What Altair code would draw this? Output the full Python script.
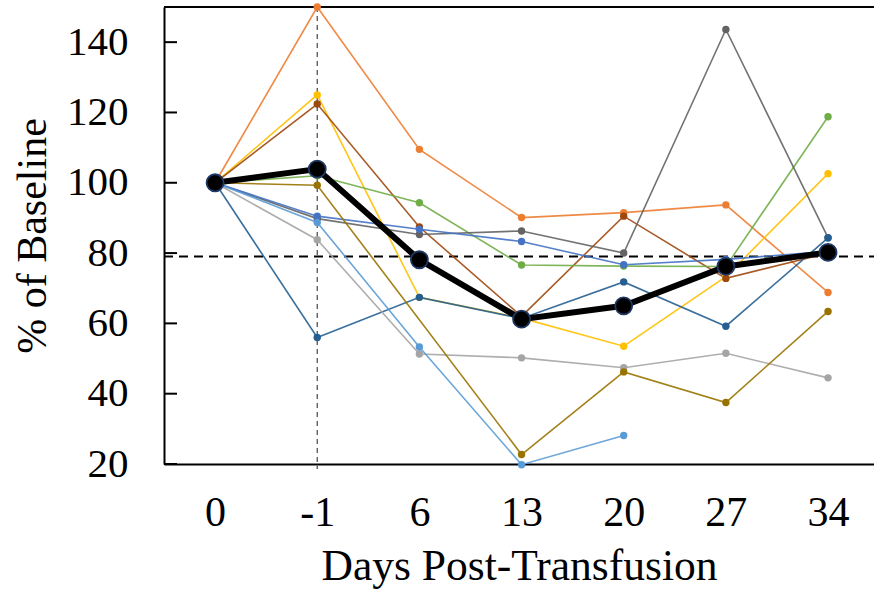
import json
import altair as alt
import pandas as pd

days = ["0", "-1", "6", "13", "20", "27", "34"]

series_names = ["orange", "yellow", "brown", "green", "dark_gray",
                "royal_blue", "steel_blue", "light_gray", "dark_gold", "light_blue"]
series_colors = ["#ED7D31", "#FFC000", "#9E480E", "#70AD47", "#636363",
                 "#4472C4", "#255E91", "#A5A5A5", "#997300", "#5B9BD5"]

orange = [100, 150, 109.5, 90.1, 91.5, 93.7, 68.8]
yellow = [100, 125.0, 67.4, 61.5, 53.5, 73.3, 102.6]
brown = [100, 122.4, 87.4, 62.0, 90.5, 72.8, 80.0]
green = [100, 102.0, 94.3, 76.6, 76.3, 76.2, 118.8]
dark_gray = [100, 89.8, 85.3, 86.3, 80.0, 143.6, 84.4]
royal_blue = [100, 90.5, 86.8, 83.3, 76.7, 78.2, 80.5]
steel_blue = [100, 56.0, 67.4, 61.4, 71.8, 59.2, 84.3]
light_gray = [100, 83.8, 51.3, 50.2, 47.4, 51.5, 44.5]
dark_gold = [100, 99.3, None, 22.7, 46.2, 37.5, 63.4]
light_blue = [100, 88.7, 53.3, 19.8, 28.1, None, None]
mean_values = [100, 103.9, 78.1, 61.2, 65.0, 76.2, 80.2]

threshold = 79
marker_day_index = 1
y_ticks = [20, 40, 60, 80, 100, 120, 140]

all_series = [orange, yellow, brown, green, dark_gray,
              royal_blue, steel_blue, light_gray, dark_gold, light_blue]

rows = []
for name, vals in zip(series_names, all_series):
    for i, v in enumerate(vals):
        if v is not None:
            rows.append({"series": name, "idx": i, "day": days[i], "value": v})
df = pd.DataFrame(rows)
mean_df = pd.DataFrame({"idx": list(range(len(days))), "day": days, "value": mean_values})

W, H = 710, 457
FONT = "Liberation Serif"

xscale = alt.Scale(domain=[-0.5, 6.45], nice=False, zero=False)
yscale = alt.Scale(domain=[20, 150], nice=False, zero=False)

label_expr = json.dumps(days) + "[datum.value]"

x_enc = alt.X("idx:Q", scale=xscale,
              axis=alt.Axis(values=list(range(len(days))), labelExpr=label_expr,
                            title="Days Post-Transfusion", ticks=False, grid=False,
                            domainColor="black", domainWidth=2,
                            labelFontSize=42, titleFontSize=43.5,
                            labelPadding=28, titlePadding=12, labelFlush=False))
y_enc = alt.Y("value:Q", scale=yscale,
              axis=alt.Axis(values=y_ticks, title="% of Baseline", ticks=False, grid=False,
                            domainColor="black", domainWidth=2,
                            labelFontSize=41, titleFontSize=42,
                            labelPadding=36, titlePadding=12))

color_enc = alt.Color("series:N", scale=alt.Scale(domain=series_names, range=series_colors),
                      legend=None)

lines = alt.Chart(df).mark_line(strokeWidth=1.6, opacity=0.9).encode(
    x=x_enc, y=y_enc, color=color_enc, detail="series:N", order="idx:Q")
points = alt.Chart(df).mark_circle(size=55, opacity=1).encode(
    x=x_enc, y=y_enc, color=color_enc)

mean_line = alt.Chart(mean_df).mark_line(strokeWidth=6, color="black").encode(
    x=x_enc, y=y_enc, order="idx:Q")
mean_pts = alt.Chart(mean_df).mark_point(size=290, filled=True, color="black",
                                         stroke="#1F3864", strokeWidth=1.8, opacity=1).encode(
    x=x_enc, y=y_enc)

hline = alt.Chart(pd.DataFrame({"value": [threshold]})).mark_rule(
    color="black", strokeWidth=2, strokeDash=[9, 6]).encode(
    y=y_enc, x=alt.value(0), x2=alt.value(W))

vline = alt.Chart(pd.DataFrame({"idx": [marker_day_index]})).mark_rule(
    color="#444444", strokeWidth=1.2, strokeDash=[5, 4]).encode(
    x=x_enc, y=alt.value(0), y2=alt.value(H + 5))

tick_df = pd.DataFrame({"value": y_ticks})
inner_ticks = alt.Chart(tick_df).mark_rule(color="black", strokeWidth=2).encode(
    y=y_enc, x=alt.value(0), x2=alt.value(13))

top_border = alt.Chart(pd.DataFrame({"value": [150]})).mark_rule(
    color="black", strokeWidth=2).encode(y=y_enc, x=alt.value(0), x2=alt.value(W))

chart = alt.layer(
    vline, hline, inner_ticks, top_border, lines, points, mean_line, mean_pts
).properties(
    width=W, height=H,
    autosize=alt.AutoSizeParams(type="none"),
    padding={"left": 164, "top": 7, "right": 0, "bottom": 126},
).configure_view(stroke=None).configure_axis(
    labelFont=FONT, titleFont=FONT,
    titleFontWeight="normal", labelColor="black", titleColor="black"
)

chart.save("out.html", embed_options={"renderer": "svg", "actions": False})
